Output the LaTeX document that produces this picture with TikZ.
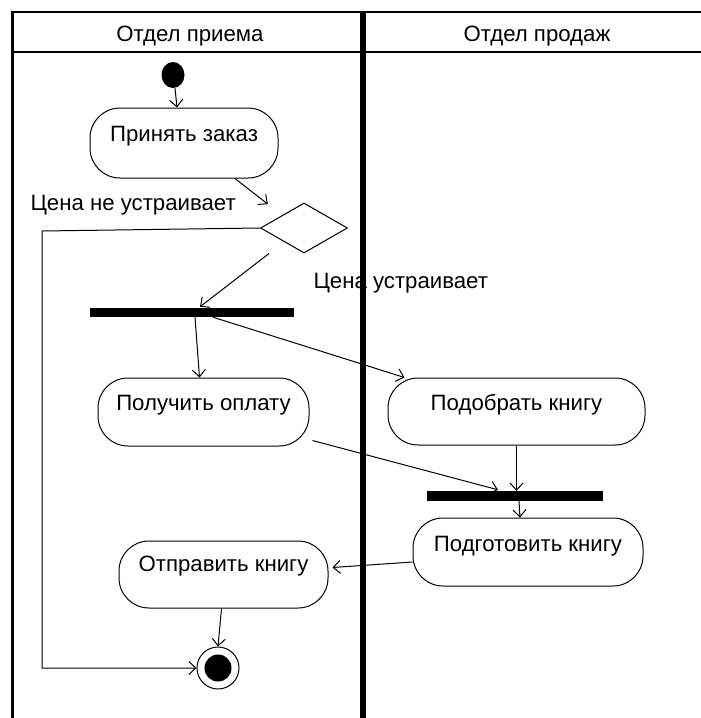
\documentclass[tikz,border=0pt]{standalone}
\usepackage{fontspec}
\setmainfont{Liberation Sans}
\usetikzlibrary{shapes.geometric,arrows.meta,calc}
\begin{document}
\begin{tikzpicture}[x=1pt,y=-1pt,
  font=\fontsize{22.2}{26}\selectfont,
  lane/.style={line width=2.5pt},
  divider/.style={line width=5.5pt},
  actbox/.style={draw, line width=1pt, rounded corners=30pt, inner sep=0pt, align=center},
  bar/.style={fill=black, draw=none, inner sep=0pt},
  flow/.style={line width=1pt, -{Straight Barb[length=7pt,width=13pt,line width=1pt]}},
  plain/.style={line width=1pt}
]
\useasboundingbox (0,0) rectangle (701,718);
% swimlanes
\draw[lane] (11.5,12) -- (701,12);
\draw[line width=2pt] (12,52) -- (701,52);
\draw[lane] (12.5,10.8) -- (12.5,718);
\draw[divider] (363,12) -- (363,718);
\node (h1) at (190,36) {Отдел приема};
\node (h2) at (537,36) {Отдел продаж};
% start
\node[ellipse, fill=black, minimum width=23pt, minimum height=26pt, inner sep=0pt] (start) at (173,75) {};
% activities
\node[actbox, minimum width=188pt, text height=33pt, text depth=37pt] (A) at (184,143) {Принять заказ};
\node[draw, diamond, line width=1pt, minimum width=87pt, minimum height=50pt, inner sep=0pt] (dec) at (304,228) {};
\node[anchor=west] (l1) at (27,205) {Цена не устраивает};
\node[anchor=west] (l2) at (310,283) {Цена устраивает};
\node[bar, minimum width=204pt, minimum height=9pt] (f1) at (192,312.5) {};
\node[actbox, minimum width=211pt, text height=32pt, text depth=36pt] (B) at (203.5,412) {Получить оплату};
\node[actbox, minimum width=257pt, text height=32pt, text depth=35pt] (C) at (516.5,411.5) {Подобрать книгу};
\node[bar, minimum width=176pt, minimum height=10pt] (f2) at (515,496) {};
\node[actbox, minimum width=230pt, text height=33pt, text depth=35pt] (D) at (528,552) {Подготовить книгу};
\node[actbox, minimum width=209pt, text height=30pt, text depth=37pt] (E) at (223.5,574.5) {Отправить книгу};
% end
\node[circle, draw, line width=1pt, minimum size=42pt, inner sep=0pt] (end) at (218,668) {};
\node[circle, fill=black, minimum size=27pt, inner sep=0pt] (endin) at (end.center) {};
\coordinate (loop) at (42,231);
% connectors
\draw[flow] ($(start.south)+(2,0)$) -- ($(A.north)+(-7,0)$);
\draw[flow, shorten >=18pt] ($(A.south)+(51,0)$) -- (dec.north west);
\draw[flow] ($(dec.south)+(-35,0)$) -- ($(f1.north)+(8,-1)$);
\draw[flow] (dec.west) -- (loop) -- (loop |- end.west) -- (end.west);
\draw[flow] ($(f1.south)+(3,0)$) -- ($(B.north)+(-4,0)$);
\draw[flow] ($(f1.south)+(21,0)$) -- ($(C.north west)+(17,0)$);
\draw[flow] ($(B.south east)+(3,-6)$) -- ($(f2.north)+(-17,-1)$);
\draw[flow] (C.south) -- (C.south |- f2.north);
\draw[flow] ($(f2.south)+(4,0)$) -- ($(D.north)+(-8,0)$);
\draw[flow] ($(D.west)+(0,10)$) -- ($(E.east)+(4,-7)$);
\draw[flow] ($(E.south)+(-2,0)$) -- (end.north);
\end{tikzpicture}
\end{document}
